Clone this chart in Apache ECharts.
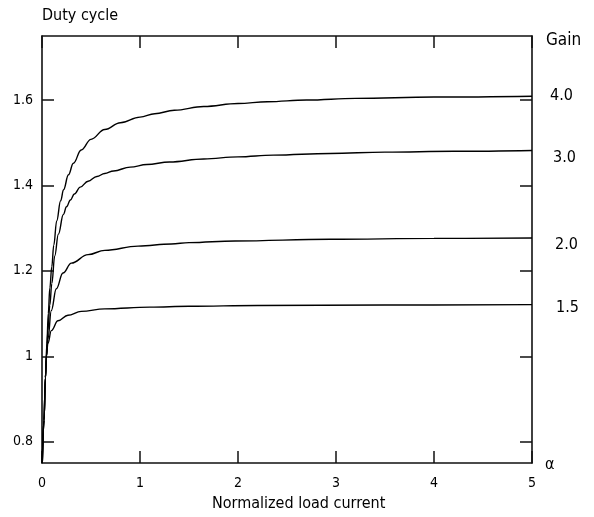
<!DOCTYPE html>
<html><head><meta charset="utf-8">
<script src="https://cdn.jsdelivr.net/npm/echarts@6/dist/echarts.min.js"></script>
<style>html,body{margin:0;padding:0;background:#fff}#c{width:594px;height:517px}</style>
</head><body><div id="c"></div>
<script>
// Normalized load current (x) and duty cycle (y) per gain curve
const gain40X = [0.003, 0.02, 0.035, 0.05, 0.064, 0.08, 0.10, 0.12, 0.15, 0.19, 0.22, 0.27, 0.32, 0.40, 0.50, 0.64, 0.80, 1.0, 1.15, 1.35, 1.65, 2.0, 2.3, 2.7, 3.2, 4.0, 5.0];
const gain40Y = [0.75, 0.85, 0.95, 1.03, 1.10, 1.16, 1.21, 1.26, 1.317, 1.364, 1.39, 1.425, 1.452, 1.483, 1.508, 1.531, 1.547, 1.56, 1.568, 1.576, 1.585, 1.592, 1.596, 1.60, 1.604, 1.607, 1.609];

const gain30X = [0.003, 0.02, 0.035, 0.045, 0.06, 0.08, 0.10, 0.13, 0.167, 0.218, 0.25, 0.29, 0.33, 0.39, 0.47, 0.56, 0.64, 0.73, 0.9, 1.07, 1.3, 1.65, 2.0, 2.36, 2.94, 3.5, 4.2, 5.0];
const gain30Y = [0.75, 0.85, 0.95, 1.0, 1.06, 1.12, 1.17, 1.235, 1.286, 1.332, 1.35, 1.366, 1.38, 1.396, 1.41, 1.421, 1.428, 1.434, 1.443, 1.449, 1.455, 1.462, 1.467, 1.471, 1.475, 1.478, 1.48, 1.482];

const gain20X = [0.003, 0.02, 0.035, 0.045, 0.06, 0.095, 0.146, 0.214, 0.30, 0.47, 0.64, 0.98, 1.32, 1.5, 1.97, 2.94, 4.0, 5.0];
const gain20Y = [0.75, 0.85, 0.95, 1.0, 1.04, 1.107, 1.158, 1.195, 1.218, 1.238, 1.248, 1.258, 1.263, 1.266, 1.27, 1.274, 1.276, 1.277];

const gain15X = [0.003, 0.02, 0.035, 0.045, 0.06, 0.095, 0.163, 0.265, 0.40, 0.64, 1.1, 1.5, 2.2, 3.5, 5.0];
const gain15Y = [0.75, 0.85, 0.95, 1.0, 1.03, 1.06, 1.083, 1.096, 1.105, 1.111, 1.115, 1.117, 1.119, 1.12, 1.121];

const xTicks = [0, 1, 2, 3, 4, 5];
const yTicks = [0.8, 1, 1.2, 1.4, 1.6];
const gainLabels = ['4.0', '3.0', '2.0', '1.5'];

const zip = (xs, ys) => xs.map((x, i) => [x, ys[i]]);
const FONT = '"DejaVu Sans Condensed", "Liberation Sans", sans-serif';

const chart = echarts.init(document.getElementById('c'), null, {renderer: 'canvas'});
const lineSeries = (name, xs, ys) => ({
  name, type: 'line', data: zip(xs, ys), xAxisIndex: 0, yAxisIndex: 0,
  showSymbol: false, smooth: 0.4, smoothMonotone: 'x',
  lineStyle: {color: '#000', width: 1.4}, animation: false
});

const axisLineStyle = {show: true, onZero: false, lineStyle: {color: '#111', width: 1.6}};
const tickStyle = {show: true, inside: true, length: 12, lineStyle: {color: '#111', width: 1.5}};
const txt = (text, x, y, size) => ({type: 'text', x, y,
  style: {text, fill: '#000', font: size + 'px ' + FONT, verticalAlign: 'middle', align: 'left'}});

chart.setOption({
  animation: false,
  backgroundColor: '#fff',
  grid: {left: 42, right: 62, top: 36, bottom: 54},
  xAxis: [
    {type: 'value', min: 0, max: 5, position: 'bottom',
     axisLine: axisLineStyle,
     axisTick: Object.assign({customValues: xTicks}, tickStyle),
     axisLabel: {customValues: xTicks, margin: 13, color: '#000', fontSize: 14, fontFamily: FONT},
     splitLine: {show: false}},
    {type: 'value', min: 0, max: 5, position: 'top',
     axisLine: axisLineStyle,
     axisTick: Object.assign({customValues: xTicks}, tickStyle),
     axisLabel: {show: false}, splitLine: {show: false}}
  ],
  yAxis: [
    {type: 'value', min: 0.75, max: 1.75, position: 'left',
     axisLine: axisLineStyle,
     axisTick: Object.assign({customValues: yTicks}, tickStyle),
     axisLabel: {customValues: yTicks, margin: 9, color: '#000', fontSize: 14, fontFamily: FONT},
     splitLine: {show: false}},
    {type: 'value', min: 0.75, max: 1.75, position: 'right',
     axisLine: axisLineStyle,
     axisTick: Object.assign({customValues: yTicks}, tickStyle),
     axisLabel: {show: false}, splitLine: {show: false}}
  ],
  series: [
    lineSeries('4.0', gain40X, gain40Y),
    lineSeries('3.0', gain30X, gain30Y),
    lineSeries('2.0', gain20X, gain20Y),
    lineSeries('1.5', gain15X, gain15Y)
  ],
  graphic: [
    txt('Duty cycle', 42, 16, 16),
    txt('Normalized load current', 212, 504, 16),
    txt('Gain', 546, 41, 17),
    txt(gainLabels[0], 550, 96, 16),
    txt(gainLabels[1], 553, 158, 16),
    txt(gainLabels[2], 555, 245, 16),
    txt(gainLabels[3], 556, 308, 16),
    txt('α', 545, 465, 16)
  ]
});
</script>
</body></html>
